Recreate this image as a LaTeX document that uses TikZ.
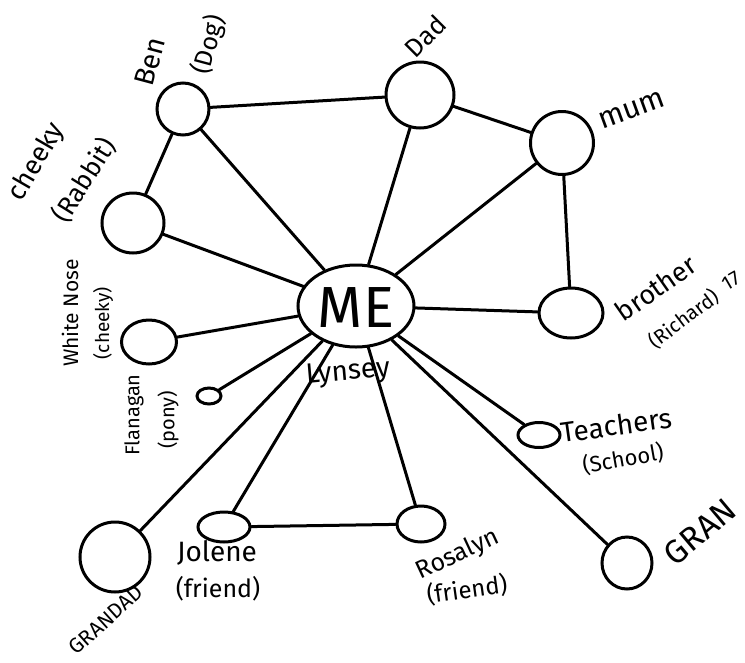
\documentclass[tikz,border=0pt]{standalone}
\usepackage{fontspec}
\setmainfont{Fira Sans}
\usetikzlibrary{shapes.geometric}
\tikzset{
  person/.style={draw, ellipse, line width=3pt, inner sep=0pt},
  tie/.style={line width=3pt, line cap=round},
  lbl/.style={inner sep=0pt, font=\fontsize{#1}{#1}\selectfont},
  lbl/.default=22
}
\begin{document}
\begin{tikzpicture}[x=1pt, y=-1pt]
\useasboundingbox[fill=white] (0,0) rectangle (745,662);
% nodes
\node[person, minimum width=116pt, minimum height=82pt] (me) at (356,306) {};
\node[lbl=58] (metext) at (356,308) {ME};
\node[person, minimum width=52pt, minimum height=52pt] (ben) at (183,109) {};
\node[person, minimum width=62pt, minimum height=60pt] (cheeky) at (133,223) {};
\node[person, minimum width=68pt, minimum height=66pt] (dad) at (420,95) {};
\node[person, minimum width=63pt, minimum height=63pt] (mum) at (562,143) {};
\node[person, minimum width=55pt, minimum height=44pt] (whitenose) at (149,342) {};
\node[person, minimum width=24pt, minimum height=16pt] (flanagan) at (209,396) {};
\node[person, minimum width=64pt, minimum height=50pt] (brother) at (571,313) {};
\node[person, minimum width=42pt, minimum height=25pt] (teachers) at (539,435) {};
\node[person, minimum width=50pt, minimum height=52pt] (gran) at (627,563) {};
\node[person, minimum width=70pt, minimum height=70pt] (grandad) at (115,557) {};
\node[person, minimum width=52pt, minimum height=30pt] (jolene) at (224,527) {};
\node[person, minimum width=48pt, minimum height=36pt] (rosalyn) at (421,524) {};
% labels
\node[lbl=28, rotate=75] (tben) at (150,62) {Ben};
\node[lbl=25, rotate=75] (tdog) at (209,45) {(Dog)};
\node[lbl=27, rotate=60] (tcheeky) at (37,162) {cheeky};
\node[lbl=26, rotate=58] (trabbit) at (84,180) {(Rabbit)};
\node[lbl=26, rotate=45] (tdad) at (425,36) {Dad};
\node[lbl=30, rotate=20] (tmum) at (632,110) {mum};
\node[lbl=21, rotate=90] (twhite) at (70,313) {White Nose};
\node[lbl=19, rotate=90] (tcheeky2) at (103,323) {(cheeky)};
\node[lbl=20, rotate=90] (tflan) at (134,415) {Flanagan};
\node[lbl=20, rotate=90] (tpony) at (168,420) {(pony)};
\node[lbl=28, rotate=5] (tlynsey) at (348,373) {Lynsey};
\node[lbl=27, rotate=35] (tbrother) at (656,288) {brother};
\node[lbl=20, rotate=37] (trichard) at (684,319) {(Richard)};
\node[lbl=20, rotate=30] (t17) at (731,281) {17};
\node[lbl=28, rotate=8] (tteach) at (616,425) {Teachers};
\node[lbl=22, rotate=10] (tschool) at (623,459) {(School)};
\node[lbl=33, rotate=40] (tgran) at (700,532) {GRAN};
\node[lbl=21, rotate=42] (tgrandad) at (106,620) {GRANDAD};
\node[lbl=28] (tjolene) at (217,553) {Jolene};
\node[lbl=25] (tfriend1) at (218,589) {(friend)};
\node[lbl=25, rotate=25] (trosalyn) at (458,555) {Rosalyn};
\node[lbl=24, rotate=8] (tfriend2) at (467,590) {(friend)};
% connectors
\draw[tie] (ben) -- (dad);
\draw[tie] (ben) -- (cheeky);
\draw[tie] (ben) -- (me);
\draw[tie] (dad) -- (mum);
\draw[tie] (dad) -- (me);
\draw[tie] (mum) -- (me);
\draw[tie] (mum) -- (brother);
\draw[tie] (cheeky) -- (me);
\draw[tie] (whitenose) -- (me);
\draw[tie] (flanagan) -- (me);
\draw[tie] (brother) -- (me);
\draw[tie] (teachers) -- (me);
\draw[tie] (gran) -- (me);
\draw[tie] (grandad) -- (me);
\draw[tie] (jolene) -- (me);
\draw[tie] (rosalyn) -- (me);
\draw[tie] (jolene) -- (rosalyn);
\end{tikzpicture}
\end{document}
